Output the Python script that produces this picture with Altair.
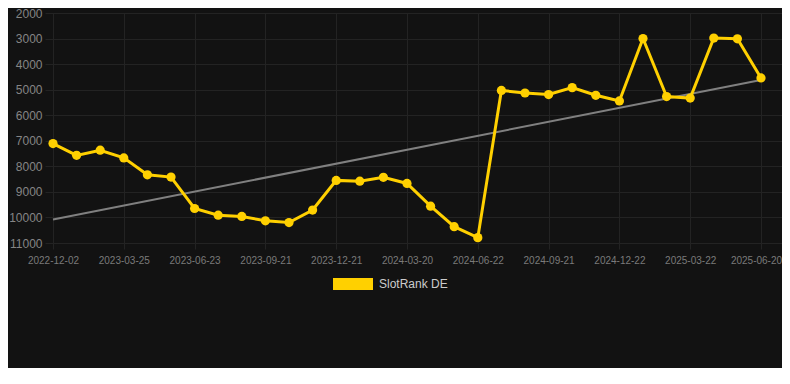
import altair as alt
import pandas as pd

dates = [
    "2022-12-02", "2023-01-09", "2023-02-16", "2023-03-25", "2023-04-24", "2023-05-24",
    "2023-06-23", "2023-07-23", "2023-08-22", "2023-09-21", "2023-10-21", "2023-11-21",
    "2023-12-21", "2024-01-20", "2024-02-19", "2024-03-20", "2024-04-21", "2024-05-22",
    "2024-06-22", "2024-07-22", "2024-08-21", "2024-09-21", "2024-10-22", "2024-11-22",
    "2024-12-22", "2025-01-21", "2025-02-20", "2025-03-22", "2025-04-21", "2025-05-21",
    "2025-06-20",
]
rank = [
    7110, 7570, 7370, 7670, 8330, 8420, 9650, 9910, 9960, 10130, 10200, 9710,
    8550, 8580, 8430, 8670, 9560, 10360, 10790, 5030, 5130, 5190, 4920, 5220,
    5440, 3000, 5270, 5330, 2980, 3010, 4540,
]
tick_labels = [
    "2022-12-02", "2023-03-25", "2023-06-23", "2023-09-21", "2023-12-21", "2024-03-20",
    "2024-06-22", "2024-09-21", "2024-12-22", "2025-03-22", "2025-06-20",
]
y_ticks = [2000, 3000, 4000, 5000, 6000, 7000, 8000, 9000, 10000, 11000]
trend_start_end = [10080, 4620]
series_name = "SlotRank DE"

GOLD = "#FFD000"
BG = "#121212"
GRID = "#232323"

df = pd.DataFrame({
    "idx": list(range(len(dates))),
    "date": dates,
    "rank": rank,
    "series": [series_name] * len(dates),
})
trend = pd.DataFrame({"idx": [0, len(dates) - 1], "rank": trend_start_end})

label_array = "[" + ",".join(f"'{d}'" for d in dates) + "]"
tick_idx = [dates.index(t) for t in tick_labels]
last_idx = len(dates) - 1

x_scale = alt.Scale(domain=[-0.339, 30.89], nice=False, zero=False)
y_scale = alt.Scale(domain=[2000, 11000], reverse=True, nice=False, zero=False)

x_axis = alt.Axis(
    values=tick_idx, labelExpr=f"{label_array}[datum.value]", title=None,
    grid=True, gridColor=GRID, domain=False, ticks=True, tickColor=GRID, tickSize=6,
    labelColor="#7a7a7a", labelFontSize=10, labelPadding=6, labelFont="Liberation Sans",
    labelOverlap=False,
    labelOffset={"condition": {"test": f"datum.value == {last_idx}", "value": -5}, "value": 0},
)
y_axis = alt.Axis(
    values=y_ticks, tickCount=len(y_ticks), title=None, grid=True, gridColor=GRID,
    domain=False, ticks=False,
    labelColor="#858585", labelFontSize=12, labelPadding=3, labelFont="Liberation Sans",
    format="d", labelOverlap=False,
)

X = alt.X("idx:Q", scale=x_scale, axis=x_axis)
Y = alt.Y("rank:Q", scale=y_scale, axis=y_axis)

trend_line = alt.Chart(trend).mark_line(color="#808080", strokeWidth=2).encode(x=X, y=Y)

line = alt.Chart(df).mark_line(color=GOLD, strokeWidth=3).encode(x=X, y=Y)

points = alt.Chart(df).mark_point(filled=True, size=85, opacity=1).encode(
    x=X,
    y=Y,
    color=alt.Color(
        "series:N",
        scale=alt.Scale(domain=[series_name], range=[GOLD]),
        legend=alt.Legend(
            title=None, orient="none", legendX=288, legendY=251,
            symbolType="M-1,-0.3H1V0.3H-1Z", symbolSize=1600, symbolOpacity=1,
            symbolStrokeWidth=0, labelColor="#cccccc", labelFontSize=12,
            labelFont="Liberation Sans", labelOffset=6, padding=0,
        ),
    ),
)

chart = alt.layer(trend_line, line, points).properties(
    width=737, height=230,
    background=BG,
    padding={"left": 37, "top": 5, "right": 0, "bottom": 125},
    autosize=alt.AutoSizeParams(type="none"),
).configure_view(stroke=None)

chart.save("out.html", embed_options={"renderer": "svg", "actions": False})
